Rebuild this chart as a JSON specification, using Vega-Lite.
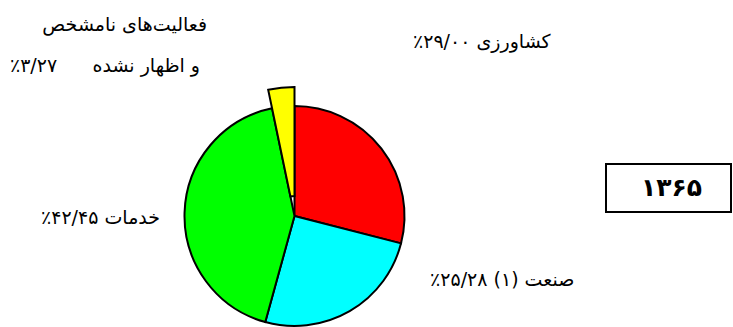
{
  "$schema": "https://vega.github.io/schema/vega-lite/v6.json",
  "padding": {"left": 0, "top": 16, "right": 0, "bottom": 0},
  "bounds": "flush",
  "spacing": 17,
  "config": {"view": {"stroke": null}, "text": {"font": "DejaVu Sans", "fontSize": 19, "color": "black"}},
  "datasets": {
    "shares": [
      {"rank": 1, "category": "کشاورزی", "share": 29.00, "label": "\u202bکشاورزی ۲۹/۰۰٪\u202c"},
      {"rank": 2, "category": "صنعت", "share": 25.28, "label": "\u202bصنعت (۱) ۲۵/۲۸٪\u202c"},
      {"rank": 3, "category": "خدمات", "share": 42.45, "label": "\u202bخدمات ۴۲/۴۵٪\u202c"},
      {"rank": 4, "category": "فعالیت‌های نامشخص و اظهار نشده", "share": 3.27, "label": "\u202bفعالیت‌های نامشخص\u202c", "label2": "\u202bو اظهار نشده\u202c", "pct": "٪۳/۲۷"}
    ],
    "year": [{"year": "۱۳۶۵"}]
  },
  "hconcat": [
    {
      "width": 589,
      "height": 220,
      "data": {"name": "shares"},
      "transform": [
        {"stack": "share", "groupby": [], "sort": [{"field": "rank", "order": "ascending"}], "as": ["t0", "t1"]}
      ],
      "encoding": {
        "theta": {"field": "t0", "type": "quantitative", "stack": null, "scale": {"domain": [0, 100]}}
      },
      "layer": [
        {
          "transform": [{"filter": "datum.rank < 4"}],
          "mark": {"type": "arc", "stroke": "black", "strokeWidth": 2},
          "encoding": {
            "theta2": {"field": "t1"},
            "color": {"field": "category", "type": "nominal", "legend": null,
              "scale": {"domain": ["کشاورزی", "صنعت", "خدمات", "فعالیت‌های نامشخص و اظهار نشده"], "range": ["#FF0000", "#00FFFF", "#00FF00", "#FFFF00"]}}
          }
        },
        {
          "transform": [{"filter": "datum.rank == 4"}],
          "mark": {"type": "arc", "stroke": "black", "strokeWidth": 2, "radius": 129, "radius2": 20},
          "encoding": {
            "theta2": {"field": "t1"},
            "color": {"field": "category", "type": "nominal", "legend": null}
          }
        },
        {
          "transform": [{"filter": "datum.rank == 1"}],
          "mark": {"type": "text", "align": "left", "baseline": "alphabetic", "radius": 205.6, "thetaOffset": 0.614},
          "encoding": {"text": {"field": "label"}}
        },
        {
          "transform": [{"filter": "datum.rank == 2"}],
          "mark": {"type": "text", "align": "left", "baseline": "alphabetic", "radius": 152.5, "thetaOffset": 0.2253},
          "encoding": {"text": {"field": "label"}}
        },
        {
          "transform": [{"filter": "datum.rank == 3"}],
          "mark": {"type": "text", "align": "right", "baseline": "alphabetic", "radius": 134.7, "thetaOffset": 1.2425},
          "encoding": {"text": {"field": "label"}}
        },
        {
          "transform": [{"filter": "datum.rank == 4"}],
          "mark": {"type": "text", "align": "right", "baseline": "alphabetic", "radius": 204.6, "thetaOffset": -0.2363},
          "encoding": {"text": {"field": "label"}}
        },
        {
          "transform": [{"filter": "datum.rank == 4"}],
          "mark": {"type": "text", "align": "right", "baseline": "alphabetic", "radius": 172.2, "thetaOffset": -0.3754},
          "encoding": {"text": {"field": "label2"}}
        },
        {
          "transform": [{"filter": "datum.rank == 4"}],
          "mark": {"type": "text", "align": "left", "baseline": "alphabetic", "radius": 318.9, "thetaOffset": -0.8969},
          "encoding": {"text": {"field": "pct"}}
        }
      ]
    },
    {
      "bounds": "flush",
      "spacing": 0,
      "vconcat": [
        {
          "width": 125,
          "height": 58,
          "data": {"values": [{}]},
          "mark": {"type": "text"},
          "encoding": {"text": {"value": ""}}
        },
        {
          "width": 125,
          "height": 48,
          "data": {"name": "year"},
          "view": {"stroke": "black", "strokeWidth": 2},
          "mark": {"type": "text", "fontSize": 25, "fontWeight": "bold", "align": "center", "baseline": "middle", "dx": 3},
          "encoding": {"text": {"field": "year"}}
        }
      ]
    }
  ]
}
